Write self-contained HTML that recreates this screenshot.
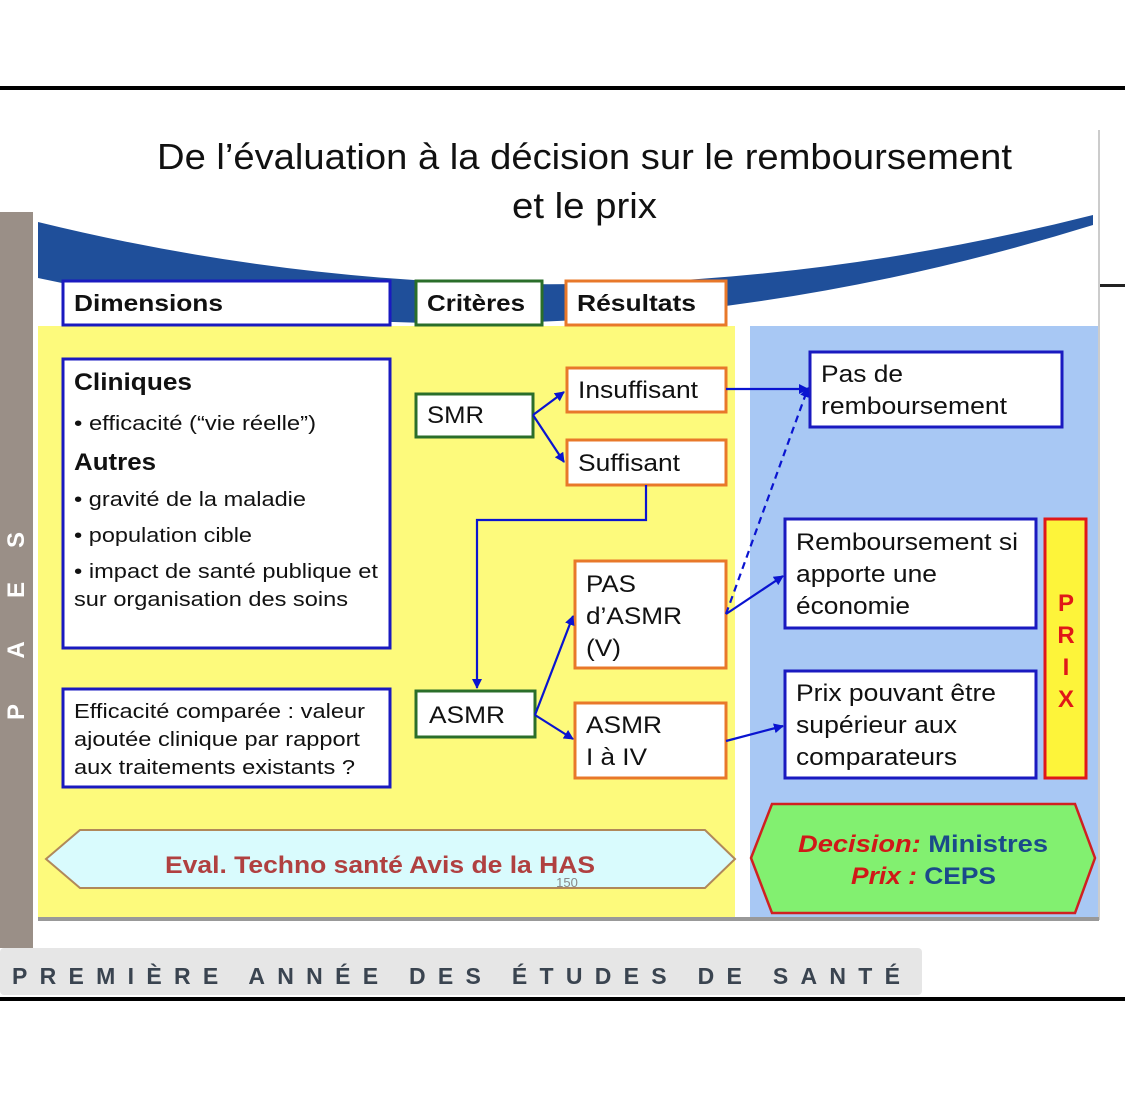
<!DOCTYPE html>
<html><head><meta charset="utf-8"><style>
html,body{margin:0;padding:0;background:#fff;}
svg{display:block;}
text{font-family:"Liberation Sans",sans-serif;}
</style></head><body>
<svg width="1125" height="1110" viewBox="0 0 1125 1110" xmlns="http://www.w3.org/2000/svg">
<defs>
<marker id="a" markerWidth="10" markerHeight="10" refX="9" refY="5" orient="auto" markerUnits="userSpaceOnUse"><path d="M0,0 L10,5 L0,10 z" fill="#0a14d0"/></marker>
</defs>
<rect x="0" y="86" width="1125" height="4" fill="#000"/>
<rect x="0" y="997" width="1125" height="4" fill="#000"/>
<line x1="1099" y1="130" x2="1099" y2="920" stroke="#ccc" stroke-width="2"/>
<rect x="1100" y="284" width="25" height="3" fill="#222"/>
<rect x="0" y="212" width="33" height="736" fill="#9a8f87"/>
<g fill="#fff" font-size="24" font-weight="bold">
<text x="16" y="548" text-anchor="middle" transform="rotate(-90 16 540)">S</text>
<text x="16" y="598" text-anchor="middle" transform="rotate(-90 16 590)">E</text>
<text x="16" y="658" text-anchor="middle" transform="rotate(-90 16 650)">A</text>
<text x="16" y="720" text-anchor="middle" transform="rotate(-90 16 712)">P</text>
</g>
<text x="157" y="169" font-size="36" fill="#111" textLength="855" lengthAdjust="spacingAndGlyphs">De l’évaluation à la décision  sur le remboursement</text>
<text x="512" y="218" font-size="36" fill="#111" textLength="145" lengthAdjust="spacingAndGlyphs">et le prix</text>
<path d="M38,222 Q560,350 1093,215 L1093,225 Q560,390 38,278 Z" fill="#1f4f9a"/>
<rect x="38" y="326" width="697" height="592" fill="#fdfa7c"/>
<rect x="750" y="326" width="348" height="592" fill="#a8c8f4"/>
<rect x="38" y="917" width="1061" height="4" fill="#999"/>
<rect x="63" y="281" width="327" height="44" fill="#fff" stroke="#1a1ac0" stroke-width="3"/>
<text x="74" y="311" font-size="23" font-weight="bold" fill="#111" textLength="149" lengthAdjust="spacingAndGlyphs">Dimensions</text>
<rect x="416" y="281" width="126" height="44" fill="#fff" stroke="#2a6e2a" stroke-width="3"/>
<text x="427" y="311" font-size="23" font-weight="bold" fill="#111" textLength="98" lengthAdjust="spacingAndGlyphs">Critères</text>
<rect x="566" y="281" width="160" height="44" fill="#fff" stroke="#e8782a" stroke-width="3"/>
<text x="577" y="311" font-size="23" font-weight="bold" fill="#111" textLength="119" lengthAdjust="spacingAndGlyphs">Résultats</text>
<rect x="63" y="359" width="327" height="289" fill="#fff" stroke="#1a1ac0" stroke-width="3"/>
<g fill="#111" font-size="20">
<text x="74" y="390" font-size="24" font-weight="bold" textLength="118" lengthAdjust="spacingAndGlyphs">Cliniques</text>
<text x="74" y="430" textLength="242" lengthAdjust="spacingAndGlyphs">• efficacité (“vie réelle”)</text>
<text x="74" y="470" font-size="24" font-weight="bold" textLength="82" lengthAdjust="spacingAndGlyphs">Autres</text>
<text x="74" y="506" textLength="232" lengthAdjust="spacingAndGlyphs">• gravité de la maladie</text>
<text x="74" y="542" textLength="178" lengthAdjust="spacingAndGlyphs">• population cible</text>
<text x="74" y="578" textLength="304" lengthAdjust="spacingAndGlyphs">• impact de santé publique et</text>
<text x="74" y="606" textLength="274" lengthAdjust="spacingAndGlyphs">sur organisation des soins</text>
</g>
<rect x="63" y="689" width="327" height="98" fill="#fff" stroke="#1a1ac0" stroke-width="3"/>
<g fill="#111" font-size="20">
<text x="74" y="718" textLength="291" lengthAdjust="spacingAndGlyphs">Efficacité comparée : valeur</text>
<text x="74" y="746" textLength="286" lengthAdjust="spacingAndGlyphs">ajoutée clinique par rapport</text>
<text x="74" y="774" textLength="281" lengthAdjust="spacingAndGlyphs">aux traitements existants ?</text>
</g>
<rect x="416" y="394" width="117" height="43" fill="#fff" stroke="#2a6e2a" stroke-width="3"/>
<text x="427" y="423" font-size="24" fill="#111" textLength="57" lengthAdjust="spacingAndGlyphs">SMR</text>
<rect x="416" y="691" width="119" height="46" fill="#fff" stroke="#2a6e2a" stroke-width="3"/>
<text x="429" y="723" font-size="24" fill="#111" textLength="76" lengthAdjust="spacingAndGlyphs">ASMR</text>
<g fill="#fff" stroke="#e8782a" stroke-width="3">
<rect x="567" y="368" width="159" height="44"/>
<rect x="567" y="440" width="159" height="45"/>
<rect x="575" y="561" width="151" height="107"/>
<rect x="575" y="703" width="151" height="75"/>
</g>
<g fill="#111" font-size="24">
<text x="578" y="398" textLength="120" lengthAdjust="spacingAndGlyphs">Insuffisant</text>
<text x="578" y="471" textLength="102" lengthAdjust="spacingAndGlyphs">Suffisant</text>
<text x="586" y="592" textLength="50" lengthAdjust="spacingAndGlyphs">PAS</text>
<text x="586" y="624" textLength="96" lengthAdjust="spacingAndGlyphs">d’ASMR</text>
<text x="586" y="656" textLength="35" lengthAdjust="spacingAndGlyphs">(V)</text>
<text x="586" y="733" textLength="76" lengthAdjust="spacingAndGlyphs">ASMR</text>
<text x="586" y="765" textLength="61" lengthAdjust="spacingAndGlyphs">I à IV</text>
</g>
<g fill="#fff" stroke="#1a1ac0" stroke-width="3">
<rect x="810" y="352" width="252" height="75"/>
<rect x="785" y="519" width="251" height="109"/>
<rect x="785" y="671" width="251" height="107"/>
</g>
<g fill="#111" font-size="24">
<text x="821" y="382" textLength="82" lengthAdjust="spacingAndGlyphs">Pas de</text>
<text x="821" y="414" textLength="186" lengthAdjust="spacingAndGlyphs">remboursement</text>
<text x="796" y="550" textLength="222" lengthAdjust="spacingAndGlyphs">Remboursement si</text>
<text x="796" y="582" textLength="141" lengthAdjust="spacingAndGlyphs">apporte une</text>
<text x="796" y="614" textLength="114" lengthAdjust="spacingAndGlyphs">économie</text>
<text x="796" y="701" textLength="200" lengthAdjust="spacingAndGlyphs">Prix pouvant être</text>
<text x="796" y="733" textLength="161" lengthAdjust="spacingAndGlyphs">supérieur aux</text>
<text x="796" y="765" textLength="161" lengthAdjust="spacingAndGlyphs">comparateurs</text>
</g>
<rect x="1045" y="519" width="41" height="259" fill="#fdf43a" stroke="#e01818" stroke-width="3"/>
<g fill="#e01818" font-size="24" font-weight="bold" text-anchor="middle">
<text x="1066" y="611">P</text><text x="1066" y="643">R</text><text x="1066" y="675">I</text><text x="1066" y="707">X</text>
</g>
<g stroke="#0a14d0" stroke-width="2.2" fill="none">
<line x1="533" y1="415" x2="564" y2="392" marker-end="url(#a)"/>
<line x1="533" y1="415" x2="564" y2="462" marker-end="url(#a)"/>
<polyline points="646,485 646,520 477,520 477,688" marker-end="url(#a)"/>
<line x1="535" y1="715" x2="573" y2="616" marker-end="url(#a)"/>
<line x1="535" y1="715" x2="573" y2="739" marker-end="url(#a)"/>
<line x1="726" y1="389" x2="808" y2="389" marker-end="url(#a)"/>
<line x1="726" y1="614" x2="808" y2="388" stroke-dasharray="7,5" marker-end="url(#a)"/>
<line x1="726" y1="614" x2="783" y2="576" marker-end="url(#a)"/>
<line x1="726" y1="741" x2="783" y2="726" marker-end="url(#a)"/>
</g>
<polygon points="80,830 705,830 735,859 705,888 80,888 46,859" fill="#d9fbfd" stroke="#b0885a" stroke-width="2"/>
<text x="165" y="873" font-size="24" font-weight="bold" fill="#b04040" textLength="430" lengthAdjust="spacingAndGlyphs">Eval. Techno santé Avis de la HAS</text>
<text x="567" y="887" font-size="13" fill="#888" text-anchor="middle">150</text>
<polygon points="772,804 1075,804 1095,858 1075,913 772,913 751,858" fill="#82f070" stroke="#d02020" stroke-width="2.5"/>
<text x="798" y="852" font-size="24" font-weight="bold" textLength="250" lengthAdjust="spacingAndGlyphs"><tspan fill="#d01818" font-style="italic">Decision:</tspan><tspan fill="#1a4a8a">  Ministres</tspan></text>
<text x="851" y="884" font-size="24" font-weight="bold" textLength="145" lengthAdjust="spacingAndGlyphs"><tspan fill="#d01818" font-style="italic">Prix :</tspan><tspan fill="#1a4a8a"> CEPS</tspan></text>
<rect x="0" y="948" width="922" height="47" rx="4" fill="#e6e6e6"/>
<text x="12" y="984" font-size="23" font-weight="bold" fill="#3a4450" textLength="888" lengthAdjust="spacing">PREMIÈRE ANNÉE DES ÉTUDES DE SANTÉ</text>
</svg>
</body></html>
